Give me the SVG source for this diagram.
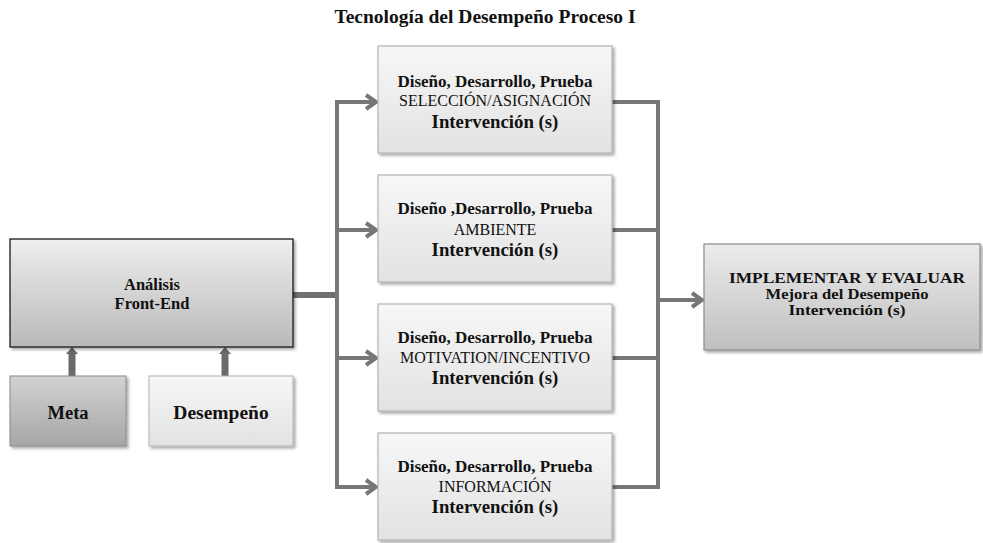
<svg xmlns="http://www.w3.org/2000/svg" width="983" height="543" viewBox="0 0 983 543" font-family="'Liberation Serif', 'DejaVu Serif', serif">
  <defs>
    <linearGradient id="gFront" x1="0" y1="0" x2="0" y2="1">
      <stop offset="0" stop-color="#eeeeee"/>
      <stop offset="1" stop-color="#b9b9b9"/>
    </linearGradient>
    <linearGradient id="gMeta" x1="0" y1="0" x2="0" y2="1">
      <stop offset="0" stop-color="#d2d2d2"/>
      <stop offset="1" stop-color="#a6a6a6"/>
    </linearGradient>
    <linearGradient id="gLight" x1="0" y1="0" x2="0" y2="1">
      <stop offset="0" stop-color="#f7f7f7"/>
      <stop offset="1" stop-color="#e2e2e2"/>
    </linearGradient>
    <linearGradient id="gImpl" x1="0" y1="0" x2="0" y2="1">
      <stop offset="0" stop-color="#ececec"/>
      <stop offset="1" stop-color="#bfbfbf"/>
    </linearGradient>
    <filter id="shadow" x="-10%" y="-10%" width="125%" height="130%">
      <feDropShadow dx="2" dy="2" stdDeviation="1.5" flood-color="#000" flood-opacity="0.35"/>
    </filter>
    <marker id="chev" markerUnits="userSpaceOnUse" viewBox="0 0 14 18" refX="12" refY="9" markerWidth="14" markerHeight="18" orient="auto">
      <path d="M2,2 L12,9 L2,16" fill="none" stroke="#777" stroke-width="4" stroke-linejoin="miter"/>
    </marker>
    <style>
      text { fill: #111; text-anchor: middle; }
      .b { font-weight: bold; }
      .title { font-size: 19.5px; font-weight: bold; }
      .l1 { font-size: 17px; font-weight: bold; }
      .l2 { font-size: 16px; }
      .l3 { font-size: 18.8px; font-weight: bold; }
      .r { font-size: 15px; font-weight: bold; }
      .box { filter: url(#shadow); }
      .mid { fill: url(#gLight); stroke: #b3b3b3; stroke-width: 1.2; }
      .wire { fill: none; stroke: #777; stroke-width: 4; }
      .wireThick { fill: none; stroke: #707070; stroke-width: 6; }
      .up { fill: #6a6a6a; }
    </style>
  </defs>

  <rect width="983" height="543" fill="#ffffff"/>

  <text class="title" x="485" y="23">Tecnología del Desempeño Proceso I</text>

  <!-- connectors -->
  <g id="connectors">
    <line class="wireThick" x1="293" y1="295" x2="339" y2="295"/>
    <line class="wire" x1="337" y1="100" x2="337" y2="489"/>
    <line class="wire" x1="335" y1="102" x2="376" y2="102" marker-end="url(#chev)"/>
    <line class="wire" x1="335" y1="230" x2="376" y2="230" marker-end="url(#chev)"/>
    <line class="wire" x1="335" y1="358" x2="376" y2="358" marker-end="url(#chev)"/>
    <line class="wire" x1="335" y1="487" x2="376" y2="487" marker-end="url(#chev)"/>

    <line class="wire" x1="612" y1="102" x2="660" y2="102"/>
    <line class="wire" x1="612" y1="230" x2="660" y2="230"/>
    <line class="wire" x1="612" y1="358" x2="660" y2="358"/>
    <line class="wire" x1="612" y1="487" x2="660" y2="487"/>
    <line class="wire" x1="658" y1="100" x2="658" y2="489"/>
    <line class="wire" x1="658" y1="300" x2="702" y2="300" stroke-width="5" marker-end="url(#chev)"/>

    <path class="up" d="M68.5,376 V354 H66 L72,347 L78,354 H75.5 V376 Z"/>
    <path class="up" d="M221.5,376 V354 H219 L225,347 L231,354 H228.5 V376 Z"/>
  </g>

  <g id="front-end">
    <rect class="box" x="10" y="239" width="283" height="108" fill="url(#gFront)" stroke="#1a1a1a" stroke-width="1.3"/>
    <text class="b" x="152" y="290" font-size="16.5">Análisis</text>
    <text class="b" x="152" y="309" font-size="16.5">Front-End</text>
  </g>

  <g id="meta">
    <rect class="box" x="10" y="376" width="116" height="70" fill="url(#gMeta)" stroke="#8a8a8a" stroke-width="1"/>
    <text class="b" x="68" y="419" font-size="18.5">Meta</text>
  </g>

  <g id="desempeno">
    <rect class="box" x="149" y="376" width="144" height="70" fill="url(#gLight)" stroke="#b3b3b3" stroke-width="1"/>
    <text class="b" x="221" y="419" font-size="19.5">Desempeño</text>
  </g>

  <g id="seleccion">
    <rect class="box mid" x="378" y="46" width="234" height="107"/>
    <text class="l1" x="495" y="87">Diseño, Desarrollo, Prueba</text>
    <text class="l2" x="495" y="106">SELECCIÓN/ASIGNACIÓN</text>
    <text class="l3" x="495" y="128">Intervención (s)</text>
  </g>

  <g id="ambiente">
    <rect class="box mid" x="378" y="175" width="234" height="107"/>
    <text class="l1" x="495" y="214">Diseño ,Desarrollo, Prueba</text>
    <text class="l2" x="495" y="235">AMBIENTE</text>
    <text class="l3" x="495" y="256">Intervención (s)</text>
  </g>

  <g id="motivacion">
    <rect class="box mid" x="378" y="304" width="234" height="107"/>
    <text class="l1" x="495" y="343">Diseño, Desarrollo, Prueba</text>
    <text class="l2" x="495" y="363">MOTIVATION/INCENTIVO</text>
    <text class="l3" x="495" y="384">Intervención (s)</text>
  </g>

  <g id="informacion">
    <rect class="box mid" x="378" y="433" width="234" height="107"/>
    <text class="l1" x="495" y="472">Diseño, Desarrollo, Prueba</text>
    <text class="l2" x="495" y="492">INFORMACIÓN</text>
    <text class="l3" x="495" y="513">Intervención (s)</text>
  </g>

  <g id="implementar">
    <rect class="box" x="704" y="244" width="276" height="106" fill="url(#gImpl)" stroke="#8c8c8c" stroke-width="1.2"/>
    <text class="r" x="847" y="283" textLength="236" lengthAdjust="spacingAndGlyphs">IMPLEMENTAR Y EVALUAR</text>
    <text class="r" x="847" y="299" textLength="163" lengthAdjust="spacingAndGlyphs">Mejora del Desempeño</text>
    <text class="r" x="847" y="315" textLength="117" lengthAdjust="spacingAndGlyphs">Intervención (s)</text>
  </g>
</svg>
